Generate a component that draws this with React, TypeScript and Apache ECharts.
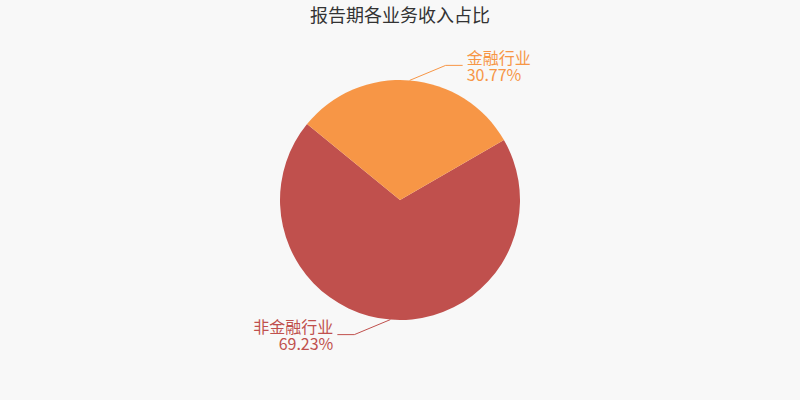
import { useRef, useEffect } from 'react'
import * as echarts from 'echarts'

const categories = ['非金融行业', '金融行业']
const values = [69.23, 30.77]
const colors = ['#c0504d', '#f79646']

export default function App() {
  const chartRef = useRef<HTMLDivElement>(null)

  useEffect(() => {
    document.body.style.margin = '0'
    if (!chartRef.current) return
    const chart = echarts.init(chartRef.current, null, { renderer: 'svg' })
    chart.setOption({
      animation: false,
      backgroundColor: '#f8f8f8',
      title: {
        text: '报告期各业务收入占比',
        left: 'center',
        top: 0,
        textStyle: {
          fontFamily: 'Noto Sans CJK SC',
          fontSize: 18,
          fontWeight: 'normal',
          color: '#333'
        }
      },
      series: [
        {
          type: 'pie',
          center: [400, 200],
          radius: 120,
          startAngle: 30,
          clockwise: true,
          data: categories.map((name, i) => ({
            name,
            value: values[i],
            itemStyle: { color: colors[i] },
            label: { color: colors[i] }
          })),
          label: {
            formatter: '{b}\n{d}%',
            fontFamily: 'Noto Sans CJK SC',
            fontSize: 16,
            lineHeight: 17
          },
          labelLine: { length: 16, length2: 16, lineStyle: { width: 1 } },
          // slanted first segment, like the original
          labelLayout: (params: any) => {
            const pts = params.labelLinePoints
            if (!pts) return {}
            const p0 = pts[0]
            const dir = p0[0] < 400 ? -1 : 1
            const up = p0[1] < 200 ? -1 : 1
            const p1 = [p0[0] + dir * 36, p0[1] + up * 15]
            const p2 = [p1[0] + dir * 17, p1[1]]
            return {
              x: p2[0] + dir * 4,
              y: p2[1],
              align: dir < 0 ? 'right' : 'left',
              verticalAlign: 'middle',
              labelLinePoints: [p0, p1, p2]
            }
          }
        }
      ]
    })
    return () => chart.dispose()
  }, [])

  return <div ref={chartRef} style={{ width: 800, height: 400 }} />
}
